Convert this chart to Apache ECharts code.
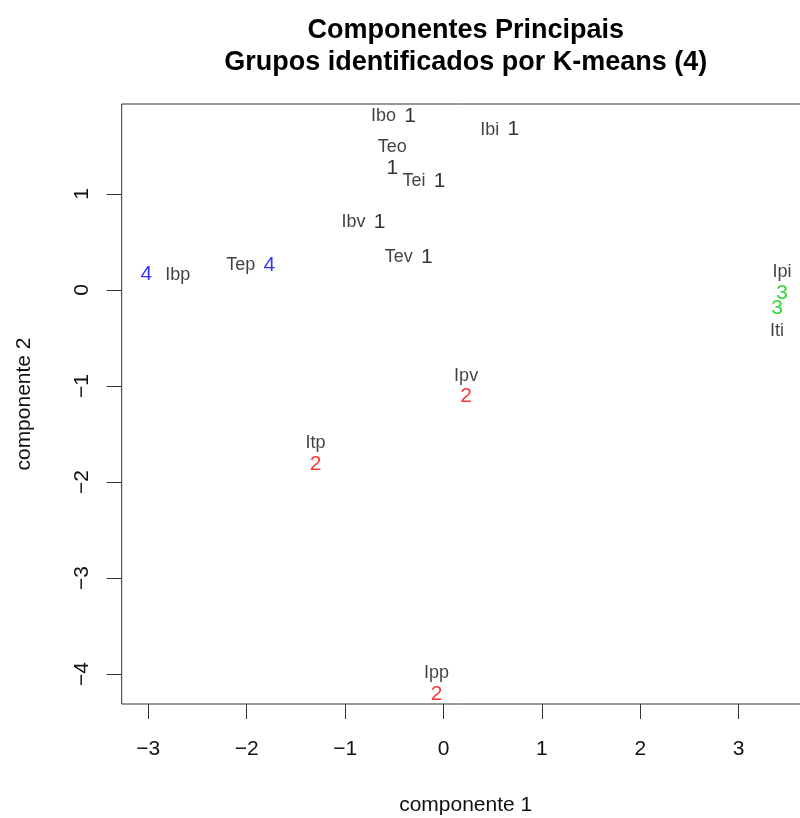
<!DOCTYPE html>
<html>
<head>
<meta charset="utf-8">
<title>Componentes Principais</title>
<script src="https://cdn.jsdelivr.net/npm/echarts@6/dist/echarts.min.js"></script>
<style>
  html, body { margin: 0; padding: 0; background: #ffffff; }
  #chart { width: 800px; height: 818px; }
</style>
</head>
<body>
<div id="chart"></div>
<script>
// Principal component scores of each variable and its K-means group
const names   = ['Ibo', 'Ibi', 'Teo', 'Tei', 'Ibv', 'Tev', 'Tep', 'Ibp', 'Ipi', 'Iti', 'Ipv', 'Itp', 'Ipp'];
const comp1   = [-0.34, 0.71, -0.52, -0.04, -0.65, -0.17, -1.77, -3.02, 3.44, 3.39, 0.23, -1.30, -0.07];
const comp2   = [1.81, 1.67, 1.27, 1.13, 0.71, 0.34, 0.26, 0.16, -0.03, -0.19, -1.11, -1.81, -4.21];
const cluster = [1, 1, 1, 1, 1, 1, 4, 4, 3, 3, 2, 2, 2];

// axis tick values
const xTicks = [-3, -2, -1, 0, 1, 2, 3];
const yTicks = [-4, -3, -2, -1, 0, 1];

const titleLines = ['Componentes Principais', 'Grupos identificados por K-means (4)'];
const xName = 'componente 1';
const yName = 'componente 2';

// R default palette for groups 1..4
const groupColor = { 1: '#000000', 2: '#ff0000', 3: '#00cd00', 4: '#0000ff' };
// side on which each name is written relative to its point
const nameSide = {
  Ibo: 'left', Ibi: 'left', Teo: 'top', Tei: 'left', Ibv: 'left', Tev: 'left',
  Tep: 'left', Ibp: 'right', Ipi: 'top', Iti: 'bottom', Ipv: 'top', Itp: 'top', Ipp: 'top'
};
const sideGap = { left: 13, right: 18, top: 11, bottom: 13 };

const FONT = '"Liberation Sans", Arial, Helvetica, sans-serif';
const minus = v => String(v).replace('-', '\u2212');

// plot frame (data coordinates) and tick frame (integer tick range)
const frame = { left: 121.7, top: 104, width: 688, height: 600 };
const xMin = -3.2703, xMax = xMin + frame.width / 98.4;
const yMax = 1.9375, yMin = yMax - frame.height / 96;
const tickGrid = {
  left: frame.left + (xTicks[0] - xMin) * 98.4,
  width: (xTicks[xTicks.length - 1] - xTicks[0]) * 98.4,
  top: frame.top + (yMax - yTicks[yTicks.length - 1]) * 96,
  height: (yTicks[yTicks.length - 1] - yTicks[0]) * 96
};

const chart = echarts.init(document.getElementById('chart'), null, { renderer: 'canvas' });

const groupData = names.map((n, i) => ({
  value: [comp1[i], comp2[i]],
  label: { formatter: String(cluster[i]), color: groupColor[cluster[i]] }
}));
const nameData = names.map((n, i) => ({
  value: [comp1[i], comp2[i]],
  label: { formatter: n, position: nameSide[n], distance: sideGap[nameSide[n]] }
}));

const hiddenAxis = {
  axisLine: { show: false }, axisTick: { show: false },
  axisLabel: { show: false }, splitLine: { show: false }
};

chart.setOption({
  animation: false,
  backgroundColor: '#ffffff',
  textStyle: { fontFamily: FONT },
  graphic: titleLines.map((t, i) => ({
    type: 'text',
    x: frame.left + frame.width / 2,
    y: 31 + i * 32,
    style: {
      text: t, fill: '#000', align: 'center', verticalAlign: 'middle',
      fontSize: 27, fontWeight: 'bold', fontFamily: FONT
    }
  })),
  grid: [
    { left: frame.left, top: frame.top, width: frame.width, height: frame.height,
      outerBoundsMode: 'none', containLabel: false,
      show: true, borderColor: '#333', borderWidth: 1, backgroundColor: 'transparent' },
    { left: tickGrid.left, top: tickGrid.top, width: tickGrid.width, height: tickGrid.height,
      outerBoundsMode: 'none', containLabel: false, show: false }
  ],
  xAxis: [
    Object.assign({ type: 'value', gridIndex: 0, min: xMin, max: xMax,
      name: xName, nameLocation: 'middle', nameGap: 91,
      nameTextStyle: { fontSize: 21, color: '#111', fontFamily: FONT } }, hiddenAxis),
    { type: 'value', gridIndex: 1, min: xTicks[0], max: xTicks[xTicks.length - 1], interval: 1,
      position: 'bottom', offset: frame.top + frame.height - (tickGrid.top + tickGrid.height),
      axisLine: { show: false, onZero: false },
      axisTick: { show: true, length: 15, lineStyle: { color: '#333', width: 1 } },
      axisLabel: { margin: 35, fontSize: 21, color: '#111', fontFamily: FONT, formatter: minus,
        showMinLabel: true, showMaxLabel: true },
      splitLine: { show: false } }
  ],
  yAxis: [
    Object.assign({ type: 'value', gridIndex: 0, min: yMin, max: yMax,
      name: yName, nameLocation: 'middle', nameGap: 87,
      nameTextStyle: { fontSize: 21, color: '#111', fontFamily: FONT } }, hiddenAxis),
    { type: 'value', gridIndex: 1, min: yTicks[0], max: yTicks[yTicks.length - 1], interval: 1,
      position: 'left', offset: tickGrid.left - frame.left,
      axisLine: { show: false, onZero: false },
      axisTick: { show: true, length: 15, lineStyle: { color: '#333', width: 1 } },
      axisLabel: { margin: 29, rotate: 90, fontSize: 21, color: '#111', fontFamily: FONT,
        formatter: minus, showMinLabel: true, showMaxLabel: true },
      splitLine: { show: false } }
  ],
  series: [
    {
      type: 'scatter', xAxisIndex: 0, yAxisIndex: 0, data: nameData,
      symbolSize: 2, itemStyle: { color: 'rgba(0,0,0,0)' }, silent: true, clip: false,
      label: { show: true, fontSize: 18, color: '#111', fontFamily: FONT },
      labelLayout: { hideOverlap: false }
    },
    {
      type: 'scatter', xAxisIndex: 0, yAxisIndex: 0, data: groupData,
      symbolSize: 2, itemStyle: { color: 'rgba(0,0,0,0)' }, silent: true, clip: false,
      label: { show: true, position: 'inside', fontSize: 21, fontFamily: FONT },
      labelLayout: { hideOverlap: false }
    }
  ]
});
</script>
</body>
</html>
